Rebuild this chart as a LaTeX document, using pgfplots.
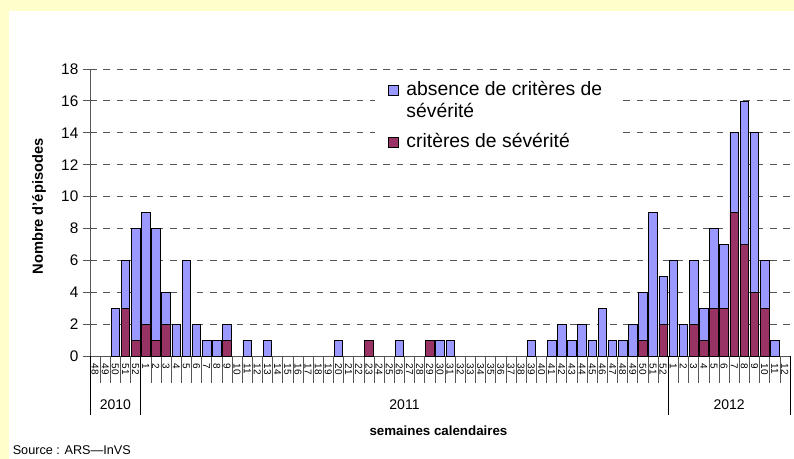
\documentclass[border=0pt]{standalone}
\usepackage{fontspec}
\setmainfont{Liberation Sans}
\usepackage{pgfplots}
\pgfplotsset{compat=1.18}
\usepackage{pgfplotstable}
\definecolor{sev}{HTML}{993366}
\definecolor{absc}{HTML}{9999FF}
\definecolor{bgy}{HTML}{FFFFCC}
\definecolor{gridc}{HTML}{555555}

\pgfplotstableread{
idx sev abs
0 0 0
1 0 0
2 0 3
3 3 3
4 1 7
5 2 7
6 1 7
7 2 2
8 0 2
9 0 6
10 0 2
11 0 1
12 0 1
13 1 1
14 0 0
15 0 1
16 0 0
17 0 1
18 0 0
19 0 0
20 0 0
21 0 0
22 0 0
23 0 0
24 0 1
25 0 0
26 0 0
27 1 0
28 0 0
29 0 0
30 0 1
31 0 0
32 0 0
33 1 0
34 0 1
35 0 1
36 0 0
37 0 0
38 0 0
39 0 0
40 0 0
41 0 0
42 0 0
43 0 1
44 0 0
45 0 1
46 0 2
47 0 1
48 0 2
49 0 1
50 0 3
51 0 1
52 0 1
53 0 2
54 1 3
55 0 9
56 2 3
57 0 6
58 0 2
59 2 4
60 1 2
61 3 5
62 3 4
63 9 5
64 7 9
65 4 10
66 3 3
67 0 1
68 0 0
}\datatable

\begin{document}
\begin{tikzpicture}[x=0.75pt,y=0.75pt]
\fill[bgy] (0,0) rectangle (794,459);
\fill[white] (9,0) rectangle (794,448);
\useasboundingbox (0,0) rectangle (794,459);
\begin{axis}[
  at={(67.5pt,77.25pt)}, anchor=south west,
  scale only axis, width=525pt, height=215.25pt,
  ybar stacked, bar width=0.84,
  xmin=-0.5, xmax=68.5, ymin=0, ymax=18,
  ytick={0,2,...,18},
  xtick={0,...,68},
  xticklabels={48,49,50,51,52,1,2,3,4,5,6,7,8,9,10,11,12,13,14,15,16,17,18,19,20,21,22,23,24,25,26,27,28,29,30,31,32,33,34,35,36,37,38,39,40,41,42,43,44,45,46,47,48,49,50,51,52,1,2,3,4,5,6,7,8,9,10,11,12},
  minor xtick={-0.5,0.5,...,68.5},
  tick align=outside,
  major tick length=5.25pt,
  minor tick length=20.25pt,
  major x tick style={draw=none},
  minor x tick style={gridc, line width=0.5pt},
  major y tick style={gridc, line width=0.6pt},
  axis lines*=left,
  axis line style={gridc, line width=0.6pt},
  ymajorgrids,
  grid style={dash pattern=on 5pt off 5pt, gridc, line width=0.6pt},
  /pgf/number format/assume math mode=true,
  yticklabel style={font=\fontsize{11.5}{13}\selectfont, anchor=east},
  xticklabel style={rotate=-90, anchor=west, font=\fontsize{7.5}{8}\selectfont, inner sep=0.5pt},
  clip=false,
  legend style={at={(0.407,0.976)}, anchor=north west, draw=none, fill=white,
    font=\fontsize{14.5}{16.5}\selectfont, cells={anchor=base west, inner ysep=0pt},
    row sep=0pt, inner xsep=9.5pt, inner ysep=2pt, column sep=4pt},
  legend image code/.code={\draw[#1, draw=black, line width=0.5pt] (0pt,0pt) rectangle (7.5pt,7.5pt);},
]
\addlegendimage{fill=absc, draw=black}
\addlegendentry{\rule[-4.5pt]{0pt}{12pt}absence de critères de}
\addlegendimage{empty legend}
\addlegendentry{\rule[-4.5pt]{0pt}{12pt}sévérité}
\addlegendimage{fill=sev, draw=black}
\addlegendentry{\rule[-4.5pt]{0pt}{21.5pt}critères de sévérité}
\addplot[fill=sev, draw=black, line width=0.5pt, forget plot] table[x=idx, y=sev] {\datatable};
\addplot[fill=absc, draw=black, line width=0.5pt, forget plot] table[x=idx, y=abs] {\datatable};
\draw[black, line width=0.5pt] (axis cs:-0.5,0) -- ++(0pt,-44.25pt);
\draw[black, line width=0.5pt] (axis cs:4.5,0) -- ++(0pt,-44.25pt);
\draw[black, line width=0.5pt] (axis cs:56.5,0) -- ++(0pt,-44.25pt);
\draw[black, line width=0.5pt] (axis cs:68.5,0) -- ++(0pt,-44.25pt);
\node[font=\fontsize{10.5}{12}\selectfont] at ([yshift=-36.5pt]axis cs:2,0) {2010};
\node[font=\fontsize{10.5}{12}\selectfont] at ([yshift=-36.5pt]axis cs:30.5,0) {2011};
\node[font=\fontsize{10.5}{12}\selectfont] at ([yshift=-36.5pt]axis cs:62.5,0) {2012};
\end{axis}
\node[rotate=90, font=\bfseries\fontsize{11}{13}\selectfont] at (39,252.5) {Nombre d'épisodes};
\node[font=\bfseries\fontsize{10}{12}\selectfont] at (438.5,28) {semaines calendaires};
\node[anchor=west, font=\fontsize{9.5}{11}\selectfont, inner sep=0pt] at (12.5,9) {Source : ARS—InVS};
\end{tikzpicture}
\end{document}
